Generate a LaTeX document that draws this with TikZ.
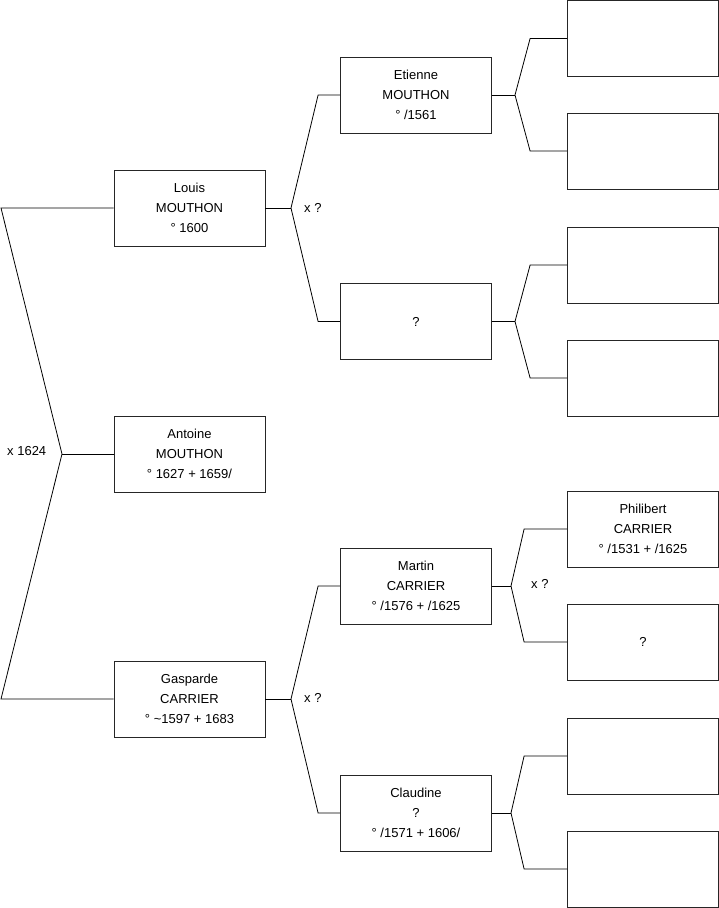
\documentclass[tikz,border=0pt]{standalone}
\usepackage{fontspec}
\setmainfont{Liberation Sans}
\begin{document}
\begin{tikzpicture}[x=1pt,y=-1pt,
  person/.style={draw=black!85, line width=0.8pt, minimum width=151pt, minimum height=76pt,
    inner sep=0pt, align=center, font=\fontsize{13}{20}\selectfont},
  conn/.style={draw=black, line width=0.8pt},
  lbl/.style={font=\fontsize{13}{15}\selectfont, anchor=west, inner sep=0pt}]
\useasboundingbox (0,0) rectangle (719,908);
% generation 1
\node[person] (louis) at (189.5,208) {Louis\\MOUTHON\\° 1600};
\node[person] (antoine) at (189.5,454) {Antoine\\MOUTHON\\° 1627 + 1659/};
\node[person] (gasparde) at (189.5,699) {Gasparde\\CARRIER\\° \textasciitilde1597 + 1683};
% generation 2
\node[person] (etienne) at (416,95) {Etienne\\MOUTHON\\° /1561};
\node[person] (unk1) at (416,321.5) {?};
\node[person] (martin) at (416,586) {Martin\\CARRIER\\° /1576 + /1625};
\node[person] (claudine) at (416,813) {Claudine\\?\\° /1571 + 1606/};
% generation 3
\node[person] (r1) at (643,38.5) {};
\node[person] (r2) at (643,151) {};
\node[person] (r3) at (643,265) {};
\node[person] (r4) at (643,378) {};
\node[person] (philibert) at (643,529) {Philibert\\CARRIER\\° /1531 + /1625};
\node[person] (unk2) at (643,642) {?};
\node[person] (r7) at (643,756) {};
\node[person] (r8) at (643,869) {};
% left bracket
\coordinate (c1) at (1,208);
\coordinate (j0) at (62,454);
\coordinate (c2) at (1,699);
\draw[conn] (louis.west) -- (c1) -- (j0) -- (c2) -- (gasparde.west);
\draw[conn] (j0) -- (antoine.west);
\node[lbl] (m0) at (7,451) {x 1624};
% Louis parents
\coordinate (jl) at (291,208);
\draw[conn] (louis.east) -- (jl);
\draw[conn] (etienne.west) -- ++(-22,0) -- (jl) -- ([xshift=-22pt]unk1.west) -- (unk1.west);
\node[lbl] (m1) at (304,208) {x ?};
% Gasparde parents
\coordinate (jg) at (291,699);
\draw[conn] (gasparde.east) -- (jg);
\draw[conn] (martin.west) -- ++(-22,0) -- (jg) -- ([xshift=-22pt]claudine.west) -- (claudine.west);
\node[lbl] (m2) at (304,698) {x ?};
% Etienne parents
\coordinate (je) at (515,95);
\draw[conn] (etienne.east) -- (je);
\draw[conn] (r1.west) -- ++(-37,0) -- (je) -- ([xshift=-37pt]r2.west) -- (r2.west);
% ? parents
\coordinate (ju) at (515,321.5);
\draw[conn] (unk1.east) -- (ju);
\draw[conn] (r3.west) -- ++(-37,0) -- (ju) -- ([xshift=-37pt]r4.west) -- (r4.west);
% Martin parents
\coordinate (jm) at (511,586);
\draw[conn] (martin.east) -- (jm);
\draw[conn] (philibert.west) -- ++(-43,0) -- (jm) -- ([xshift=-43pt]unk2.west) -- (unk2.west);
\node[lbl] (m3) at (531,584) {x ?};
% Claudine parents
\coordinate (jc) at (511,813);
\draw[conn] (claudine.east) -- (jc);
\draw[conn] (r7.west) -- ++(-43,0) -- (jc) -- ([xshift=-43pt]r8.west) -- (r8.west);
\end{tikzpicture}
\end{document}
